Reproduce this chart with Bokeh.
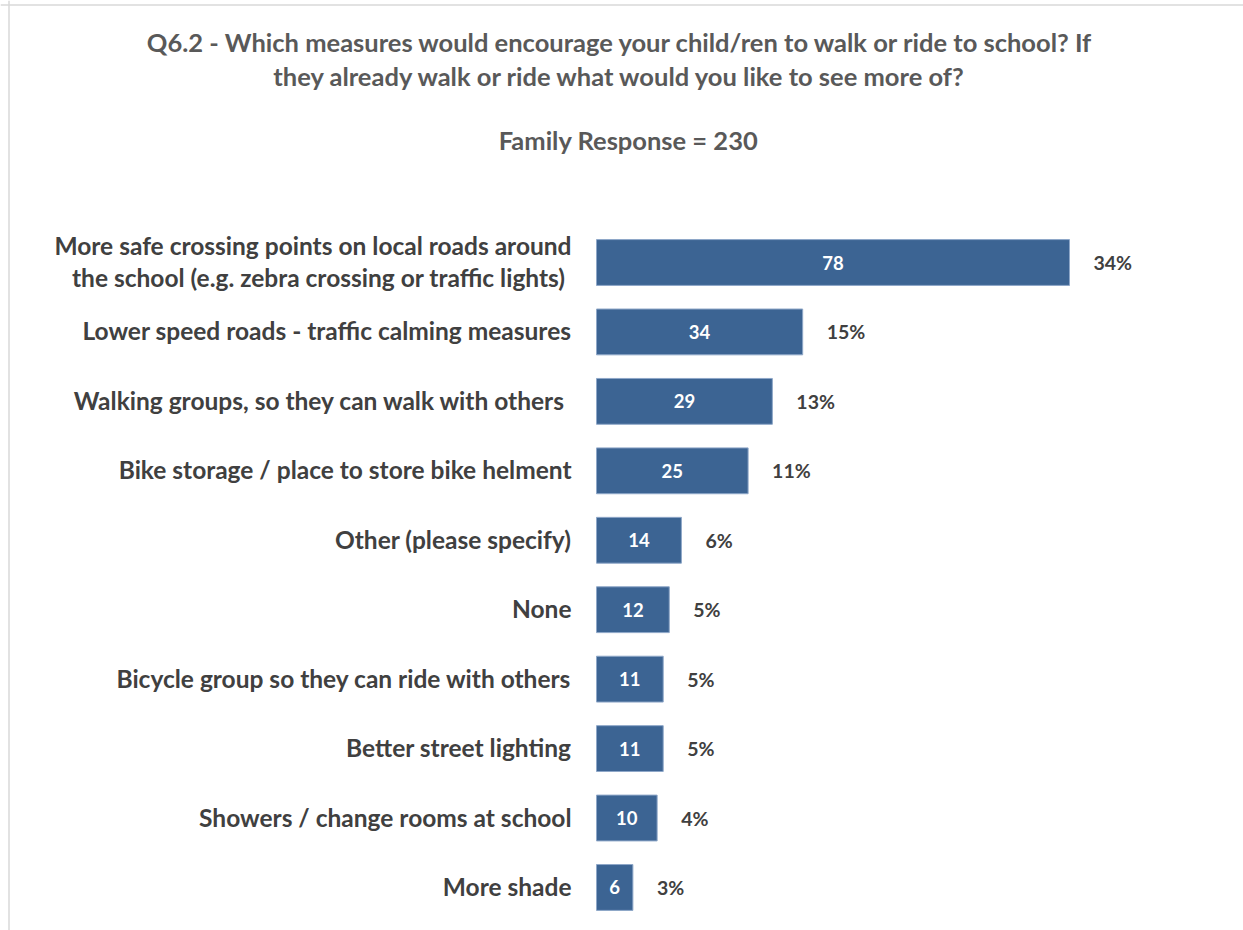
from bokeh.plotting import figure
from bokeh.models import ColumnDataSource, Range1d, Span
from bokeh.core.properties import value
from bokeh.embed import file_html
from bokeh.resources import INLINE

# ---- data (top to bottom) ----
categories = [
    "More safe crossing points on local roads around\nthe school  (e.g. zebra crossing or traffic lights)",
    "Lower speed roads - traffic calming measures",
    "Walking groups,  so they can walk with others",
    "Bike storage / place to store bike helment",
    "Other (please specify)",
    "None",
    "Bicycle group so they can ride with others",
    "Better street lighting",
    "Showers / change rooms at school",
    "More shade",
]
counts = [78, 34, 29, 25, 14, 12, 11, 11, 10, 6]
pct_labels = ["34%", "15%", "13%", "11%", "6%", "5%", "5%", "5%", "4%", "3%"]
title_lines = [
    "Q6.2 - Which measures would encourage your child/ren to walk or ride to school? If",
    "they already walk or ride what would you like to see more of?",
]
subtitle = "Family Response = 230"

# ---- layout ----
W, H = 1243, 930
zero_px = 596.0          # canvas x of value 0
px_per_unit = 6.064      # horizontal scale
row_px = 69.44           # row spacing
first_row_px = 262.0     # canvas y of first bar centre

x_start = -zero_px / px_per_unit
x_end = (W - zero_px) / px_per_unit
y_top = first_row_px / row_px
y_bot = -(H - first_row_px) / row_px


def dx(px):
    return (px - zero_px) / px_per_unit


def dy(px):
    return (first_row_px - px) / row_px


rows = [-i for i in range(len(categories))]
src = ColumnDataSource(dict(
    y=rows,
    cat=categories,
    count=counts,
    half=[c / 2 for c in counts],
    clabel=[str(c) for c in counts],
    plabel=pct_labels,
))

FONT = value("Lato")
p = figure(width=W, height=H, output_backend="svg", toolbar_location=None,
           x_range=Range1d(x_start, x_end), y_range=Range1d(y_bot, y_top),
           min_border=0, min_border_left=0, min_border_right=0,
           min_border_top=0, min_border_bottom=0)
p.axis.visible = False
p.grid.visible = False
p.outline_line_color = None
p.background_fill_color = "white"
p.border_fill_color = "white"

# chart-area border (left and top edges visible in reference)
p.add_layout(Span(location=dx(8.5), dimension="height",
                  line_color="#D9D9D9", line_width=1.5))
p.add_layout(Span(location=dy(4.5), dimension="width",
                  line_color="#D9D9D9", line_width=1.5))

p.hbar(y="y", left=0, right="count", height=0.66, source=src,
       fill_color="#3C6493", line_color="#8EA7C8", line_width=1)

p.text(x=0, y="y", text="cat", source=src, x_offset=-25, y_offset=-1,
       text_align="right", text_baseline="middle",
       text_font=FONT, text_font_style="bold", text_font_size="24.5px",
       text_color="#404040", text_line_height=1.09)

p.text(x="half", y="y", text="clabel", source=src,
       text_align="center", text_baseline="middle",
       text_font=FONT, text_font_style="bold", text_font_size="18.5px",
       text_color="white")

p.text(x="count", y="y", text="plabel", source=src, x_offset=24,
       text_align="left", text_baseline="middle",
       text_font=FONT, text_font_style="bold", text_font_size="19.5px",
       text_color="#404040")

title_src = ColumnDataSource(dict(
    x=[dx(620), dx(620), dx(628)],
    y=[dy(41.5), dy(75.5), dy(139.5)],
    t=title_lines + [subtitle],
))
p.text(x="x", y="y", text="t", source=title_src,
       text_align="center", text_baseline="middle",
       text_font=FONT, text_font_style="bold", text_font_size="25.5px",
       text_color="#595959")

open("out.html", "w").write(file_html(p, INLINE))
